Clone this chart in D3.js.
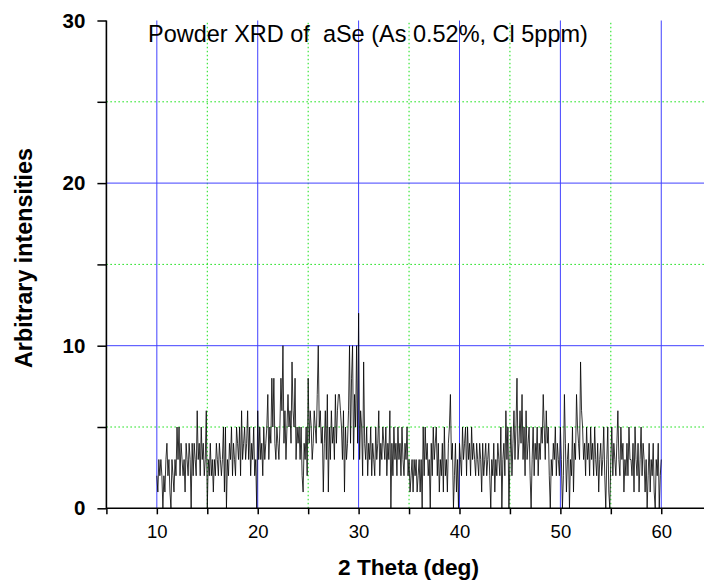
<!DOCTYPE html>
<html><head><meta charset="utf-8">
<script src="https://cdn.jsdelivr.net/npm/d3@7"></script>
<style>body{margin:0;background:#fff}svg{display:block;font-family:Arial,"Liberation Sans",sans-serif}</style>
</head><body>
<script>
const titleText = "Powder XRD of  aSe (As 0.52%, Cl 5ppm)";
const xTitle = "2 Theta (deg)";
const yTitle = "Arbitrary intensities";
const xStart = 10, xStep = 0.1;
const intensities = [
 2,1,3,2,3,2,0,2,1,3,
 4,2,3,1,0,3,2,1,3,2,
 5,3,5,2,4,3,2,3,1,4,
 3,2,4,3,0,4,2,4,3,2,
 6,3,4,2,5,3,4,2,3,6,
 0,3,2,4,2,3,1,3,2,4,
 3,2,4,3,2,3,5,1,5,0,
 3,2,4,3,5,2,4,3,2,5,
 4,3,5,2,6,3,4,5,3,4,
 6,3,5,2,4,3,5,2,3,0,
 6,3,5,3,4,2,5,3,4,5,
 7,3,5,4,8,5,8,4,3,5,
 4,3,5,8,6,10,4,6,3,5,
 7,5,6,4,9,6,5,8,3,5,
 4,5,3,5,2,1,4,3,5,2,
 8,4,6,5,3,4,6,5,4,7,
 10,5,6,4,5,1,4,6,3,7,
 1,5,3,6,4,5,3,7,4,6,
 7,7,6,5,3,6,1,5,3,4,
 6,10,4,8,10,3,7,5,10,4,
 12,3,6,5,2,9,4,3,5,2,
 4,3,5,2,4,3,2,5,3,4,
 6,2,4,3,5,4,3,5,2,4,
 3,6,0,4,2,5,3,4,2,5,
 3,4,2,5,3,2,4,3,5,2,
 3,1,2,3,1,3,2,3,1,2,
 3,1,3,0,5,2,5,3,4,2,
 3,0,4,2,5,3,4,5,2,4,
 1,3,2,4,1,5,2,3,1,4,
 5,7,3,4,0,2,4,1,3,0,
 4,3,2,5,3,4,5,2,5,3,
 4,2,5,3,4,3,2,4,3,2,
 4,3,1,4,2,3,4,2,3,4,
 2,0,3,2,4,1,3,2,4,3,
 2,5,0,3,4,2,6,3,5,0,
 3,5,2,4,6,3,5,8,3,4,
 6,4,7,3,5,2,6,3,4,5,
 2,0,3,5,2,4,3,5,2,4,
 3,5,4,7,5,3,6,4,5,2,
 0,3,2,4,3,5,2,4,3,2,
 5,3,0,2,7,4,1,3,4,0,
 3,2,5,1,4,3,7,5,4,3,
 9,6,5,3,4,2,5,3,4,2,
 5,3,4,2,5,3,2,4,1,3,
 4,2,3,5,2,0,3,5,1,0,
 3,5,2,4,3,2,4,6,3,2,
 5,3,4,1,3,2,4,2,5,3,
 3,2,4,1,5,3,2,4,1,3,
 5,2,4,3,1,3,0,2,4,1,
 3,2,4,1,0,3,2,4,0,2,
 3
];
const xMajor = [10,20,30,40,50,60];
const xMinor = [15,25,35,45,55];
const xTicks = [5,10,15,20,25,30,35,40,45,50,55,60];
const xTickLabels = ["","10","","20","","30","","40","","50","","60"];
const yMajor = [10,20];
const yMinor = [5,15,25];
const yTicks = [0,5,10,15,20,25,30];
const yTickLabels = ["0","","10","","20","","30"];

const W = 704, H = 583;
const data = intensities.map((v,i)=>({x: +(xStart + i*xStep).toFixed(1), y: v}));

const x = d3.scaleLinear().domain([5,65]).range([106.4, 711.7]);
const y = d3.scaleLinear().domain([0,30]).range([508.3, 20.5]);

const svg = d3.select("body").append("svg").attr("width",W).attr("height",H);

function fitWidth(sel, target){
  const len = sel.node().getComputedTextLength();
  const fs = parseFloat(sel.attr("font-size"));
  if (len > 0) sel.attr("font-size", (fs*target/len).toFixed(2));
}

// grid
const grid = svg.append("g");
grid.selectAll(".vmin").data(xMinor).join("line")
  .attr("x1",d=>x(d)).attr("x2",d=>x(d)).attr("y1",y(0)).attr("y2",y(30))
  .attr("stroke","#11e011").attr("stroke-width",1).attr("stroke-dasharray","1.5,2.5");
grid.selectAll(".hmin").data(yMinor).join("line")
  .attr("x1",x(5)).attr("x2",W).attr("y1",d=>y(d)).attr("y2",d=>y(d))
  .attr("stroke","#11e011").attr("stroke-width",1).attr("stroke-dasharray","1.5,2.5");
grid.selectAll(".vmaj").data(xMajor).join("line")
  .attr("x1",d=>x(d)).attr("x2",d=>x(d)).attr("y1",y(0)).attr("y2",y(30))
  .attr("stroke","#4040ff").attr("stroke-width",1);
grid.selectAll(".hmaj").data(yMajor).join("line")
  .attr("x1",x(5)).attr("x2",W).attr("y1",d=>y(d)).attr("y2",d=>y(d))
  .attr("stroke","#4040ff").attr("stroke-width",1);

// data line
svg.append("path").datum(data)
  .attr("fill","none").attr("stroke","#000").attr("stroke-width",0.8)
  .attr("d", d3.line().x(d=>x(d.x)).y(d=>y(d.y)));

// axes
const xAxis = d3.axisBottom(x).tickValues(xTicks).tickSize(6).tickPadding(11)
  .tickFormat((d,i)=>xTickLabels[i]);
const gx = svg.append("g").attr("transform",`translate(0,${y(0)})`).call(xAxis);
gx.select(".domain").attr("d",`M${x(5)},0H${W}`).attr("stroke-width",1.6);
gx.selectAll(".tick line").attr("stroke-width",1.5);
gx.selectAll(".tick text").attr("font-size",18.5).attr("font-family","Arial, 'Liberation Sans', sans-serif").attr("fill","#000");

const yAxis = d3.axisLeft(y).tickValues(yTicks).tickSize(9).tickPadding(12)
  .tickFormat((d,i)=>yTickLabels[i]);
const gy = svg.append("g").attr("transform",`translate(${x(5)},0)`).call(yAxis);
gy.select(".domain").attr("d",`M0,${y(0)}V${y(30)}`).attr("stroke-width",1.6);
gy.selectAll(".tick line").attr("stroke-width",1.5);
gy.selectAll(".tick text").attr("font-size",20.5).attr("font-weight","bold")
  .attr("font-family","Arial, 'Liberation Sans', sans-serif").attr("fill","#000");

// titles
const t = svg.append("text").attr("x",148).attr("y",42).attr("font-size",20)
  .style("white-space","pre").attr("fill","#000").text(titleText);
fitWidth(t, 440);
const xt = svg.append("text").attr("x",408.5).attr("y",575).attr("text-anchor","middle")
  .attr("font-size",20).attr("font-weight","bold").attr("fill","#000").text(xTitle);
fitWidth(xt, 141);
const yt = svg.append("text").attr("transform","translate(32,258) rotate(-90)").attr("text-anchor","middle")
  .attr("font-size",20).attr("font-weight","bold").attr("fill","#000").text(yTitle);
fitWidth(yt, 220);
</script>
</body></html>
